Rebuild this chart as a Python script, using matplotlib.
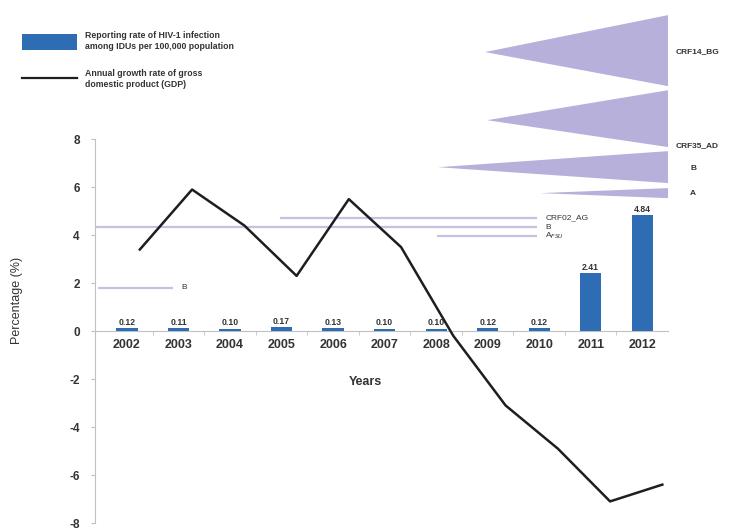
import numpy as np
import matplotlib
matplotlib.use('Agg')
import matplotlib.pyplot as plt
from matplotlib.patches import Polygon, Rectangle
from matplotlib.lines import Line2D

plt.rcParams['font.family'] = ['Liberation Sans', 'DejaVu Sans']

years = ['2002', '2003', '2004', '2005', '2006', '2007', '2008', '2009', '2010', '2011', '2012']
hiv_rate = [0.12, 0.11, 0.10, 0.17, 0.13, 0.10, 0.10, 0.12, 0.12, 2.41, 4.84]
hiv_labels = ['0.12', '0.11', '0.10', '0.17', '0.13', '0.10', '0.10', '0.12', '0.12', '2.41', '4.84']
gdp_growth = [3.4, 5.9, 4.4, 2.3, 5.5, 3.5, -0.2, -3.1, -4.9, -7.1, -6.4]

# clades drawn as triangles (name, apex x, apex y, right top, right bottom)
clade_names = ['CRF14_BG', 'CRF35_AD', 'B', 'A']
clade_apex_x = [6.95, 6.99, 6.04, 8.02]
clade_apex_y = [11.63, 8.79, 6.83, 5.75]
clade_top = [13.17, 10.04, 7.50, 5.96]
clade_bottom = [10.21, 7.67, 6.17, 5.54]
clade_label_y = [11.63, 7.71, 6.79, 5.75]

# single lineages (name, y level, start x, end x)
lin_names = ['B', 'CRF02_AG', 'B', 'A$_{FSU}$']
lin_y = [1.8, 4.71, 4.33, 3.96]
lin_x0 = [-0.56, 2.97, -0.62, 6.02]
lin_x1 = [0.89, 7.96, 7.96, 7.96]

W, H = 732, 529
fig = plt.figure(figsize=(W / 100, H / 100), dpi=100)
ax = fig.add_axes([95 / W, 6 / H, 573 / W, 523 / H])

x = np.arange(len(years))
bar_color = '#2e6db4'
ax.bar(x, hiv_rate, width=0.41, color=bar_color, zorder=3)
for xi, v, lab in zip(x, hiv_rate, hiv_labels):
    ax.text(xi, v + 0.05, lab, ha='center', va='bottom', fontsize=6.2,
            color='#333333', fontweight='bold', zorder=4)

# GDP line sits on its own (slightly shifted) category positions
x_line = x * 1.014 + 0.25
ax.plot(x_line, gdp_growth, color='#1e1e1e', lw=1.8, zorder=5)

lav = '#b6b0db'
for ax_, ay, t, b, nm, ly in zip(clade_apex_x, clade_apex_y, clade_top,
                                  clade_bottom, clade_names, clade_label_y):
    ax.add_patch(Polygon([(ax_, ay), (10.5, t), (10.5, b)], closed=True,
                         facecolor=lav, edgecolor='none', zorder=2))
    lx = 10.64 if len(nm) > 1 else 10.93
    ax.text(lx, ly, nm, fontsize=6, va='center', ha='left', color='#333333',
            fontweight='bold')

for y, x0, x1, nm in zip(lin_y, lin_x0, lin_x1, lin_names):
    ax.plot([x0, x1], [y, y], color='#c6c1e3', lw=1.6, zorder=2,
            solid_capstyle='butt')
    ax.text(x1 + 0.16, y, nm, fontsize=6, va='center', ha='left',
            color='#333333')

ax.set_xlim(-0.62, 10.5)
ax.set_ylim(-8, 13.8)
ax.spines['top'].set_visible(False)
ax.spines['right'].set_visible(False)
ax.spines['left'].set_bounds(-8, 8)
ax.spines['left'].set_color('#c0c0c0')
ax.spines['bottom'].set_position(('data', 0))
ax.spines['bottom'].set_color('#c0c0c0')
ax.set_yticks(np.arange(-8, 9, 2))
ax.set_yticklabels([str(v) for v in range(-8, 9, 2)], fontsize=8.5,
                   fontweight='bold', color='#333333')
ax.tick_params(axis='y', length=3, color='#c0c0c0', pad=8)
ax.set_xticks(x)
ax.set_xticklabels(years, fontsize=9, fontweight='bold', color='#333333')
ax.tick_params(axis='x', length=0, pad=6)
ax.set_xticks(x[:-1] + 0.5, minor=True)
ax.tick_params(axis='x', which='minor', length=3, color='#c0c0c0')

fig.text(17 / W, 1 - 300 / H, 'Percentage (%)', rotation=90, ha='center',
         va='center', fontsize=9, color='#333333')
fig.text(365 / W, 1 - 382 / H, 'Years', ha='center', va='center',
         fontsize=9, fontweight='bold', color='#333333')

# legend drawn by hand in pixel positions
fig.patches.append(Rectangle((22 / W, 1 - 50 / H), 55 / W, 16 / H,
                             transform=fig.transFigure, facecolor=bar_color,
                             edgecolor='none'))
fig.lines.append(Line2D([22 / W, 77 / W], [1 - 78 / H, 1 - 78 / H],
                        transform=fig.transFigure, color='#1e1e1e', lw=1.6))
fig.text(85 / W, 1 - 41 / H,
         'Reporting rate of HIV-1 infection\namong IDUs per 100,000 population',
         fontsize=6.3, va='center', ha='left', color='#333333', fontweight='bold',
         linespacing=1.3)
fig.text(85 / W, 1 - 79 / H,
         'Annual growth rate of gross\ndomestic product (GDP)',
         fontsize=6.3, va='center', ha='left', color='#333333', fontweight='bold',
         linespacing=1.3)

fig.savefig('out.png', dpi=100)
